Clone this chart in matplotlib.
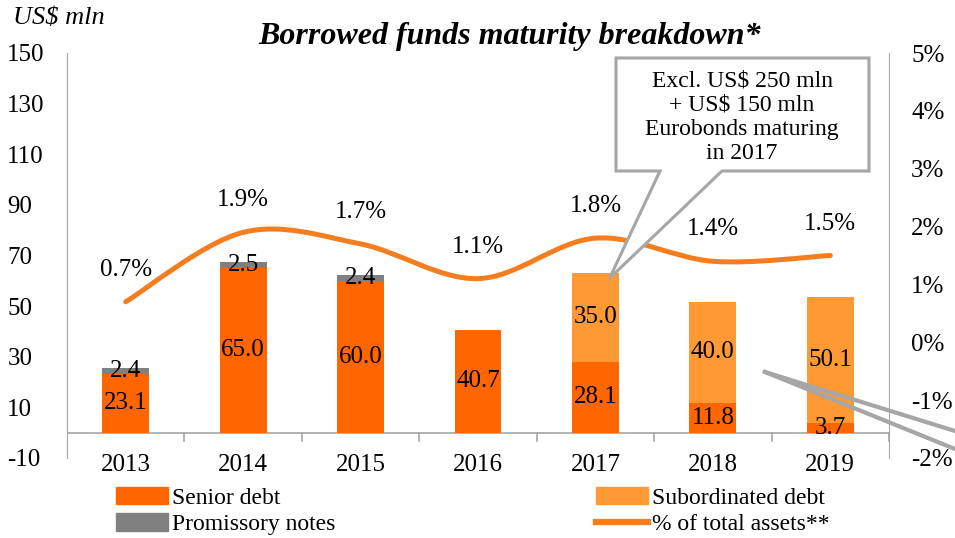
import numpy as np
import matplotlib.pyplot as plt
from matplotlib.path import Path
from matplotlib.patches import PathPatch, Polygon, Patch
from matplotlib.lines import Line2D

plt.rcParams['font.family'] = ['Liberation Serif', 'DejaVu Serif']
plt.rcParams['axes.unicode_minus'] = False

years = ['2013', '2014', '2015', '2016', '2017', '2018', '2019']
senior = [23.1, 65.0, 60.0, 40.7, 28.1, 11.8, 3.7]
subordinated = [0, 0, 0, 0, 35.0, 40.0, 50.1]
promissory = [2.4, 2.5, 2.4, 0, 0, 0, 0]
pct_assets = [0.7, 1.9, 1.7, 1.1, 1.8, 1.4, 1.5]

c_senior = '#FF6600'
c_sub = '#FF9933'
c_prom = '#808080'
c_line = '#F47D20'
c_grey = '#A6A6A6'

W, H = 955, 538
fig = plt.figure(figsize=(W / 100, H / 100), dpi=100)
ax = fig.add_axes([67 / W, 1 - 458 / H, (889 - 67) / W, (458 - 53) / H])
ax2 = ax.twinx()

x = np.arange(len(years))
bw = 0.4
ax.bar(x, senior, bw, color=c_senior, zorder=2)
ax.bar(x, subordinated, bw, bottom=senior, color=c_sub, zorder=2)
bottom2 = np.array(senior) + np.array(subordinated)
ax.bar(x, promissory, bw, bottom=bottom2, color=c_prom, zorder=2)

fs = 18
for i in range(len(years)):
    if senior[i]:
        ax.text(x[i], senior[i] / 2, '%.1f' % senior[i], ha='center', va='center', fontsize=fs, zorder=3)
    if subordinated[i]:
        ax.text(x[i], senior[i] + subordinated[i] / 2, '%.1f' % subordinated[i],
                ha='center', va='center', fontsize=fs, zorder=3)
    if promissory[i]:
        ax.text(x[i], bottom2[i] + promissory[i] / 2, '%.1f' % promissory[i],
                ha='center', va='center', fontsize=fs, zorder=3)

ax.set_xlim(-0.5, 6.5)
ax.set_ylim(-10, 150)
ax.set_yticks(np.arange(-10, 151, 20))
ax2.set_ylim(-2, 5)
ax2.set_yticks(np.arange(-2, 6, 1))
ax2.set_yticklabels(['%d%%' % v for v in range(-2, 6)])

# smoothed line (Bezier through the points, like Excel smoothing)
pts = np.column_stack([x, pct_assets]).astype(float)
verts = [tuple(pts[0])]
codes = [Path.MOVETO]
n = len(pts)
for i in range(n - 1):
    p0 = pts[max(i - 1, 0)]
    p1 = pts[i]
    p2 = pts[i + 1]
    p3 = pts[min(i + 2, n - 1)]
    c1 = p1 + (p2 - p0) / 6
    c2 = p2 - (p3 - p1) / 6
    verts += [tuple(c1), tuple(c2), tuple(p2)]
    codes += [Path.CURVE4] * 3
ax2.add_patch(PathPatch(Path(verts, codes), fill=False, edgecolor=c_line, lw=3.6,
                        capstyle='round', zorder=4))
for i, v in enumerate(pct_assets):
    ax2.annotate('%.1f%%' % v, (x[i], v), xytext=(0, 23), textcoords='offset points',
                 ha='center', va='center', fontsize=fs)

# axes styling
for a in (ax, ax2):
    a.spines['top'].set_visible(False)
    a.spines['bottom'].set_visible(False)
    a.spines['left'].set_color(c_grey)
    a.spines['right'].set_color(c_grey)
ax2.spines['left'].set_visible(False)
ax.spines['right'].set_visible(False)
ax.tick_params(axis='y', length=0, labelsize=fs, pad=43)
for lab in ax.get_yticklabels():
    lab.set_horizontalalignment('left')
ax2.tick_params(axis='y', length=0, labelsize=fs, pad=16)

ax.axhline(0, color=c_grey, lw=1.2, zorder=1)
ax.set_xticks(x)
ax.set_xticklabels(years, fontsize=fs)
ax.tick_params(axis='x', length=0, pad=-3)
for b in np.arange(0.5, 7.0, 1.0):
    ax.plot([b, b], [0, -3.2], color=c_grey, lw=1.2, clip_on=False, zorder=1)

# titles
fig.text(510 / W, 1 - 37 / H, 'Borrowed funds maturity breakdown*', ha='center', va='center',
         fontsize=23, fontweight='bold', fontstyle='italic')
fig.text(13 / W, 1 - 18 / H, 'US$ mln', ha='left', va='center', fontsize=19, fontstyle='italic')

# callout box
fig.canvas.draw()
tip_disp = ax.transData.transform((4.12, 61))
tip = fig.transFigure.inverted().transform(tip_disp)
box = [(616, 58), (869, 58), (869, 171), (722, 171), None, (660, 171), (616, 171)]
poly = []
for p in box:
    if p is None:
        poly.append(tuple(tip))
    else:
        poly.append((p[0] / W, 1 - p[1] / H))
fig.patches.append(Polygon(poly, closed=True, transform=fig.transFigure, facecolor='white',
                           edgecolor=c_grey, lw=2.2, zorder=5))
fig.text(742 / W, 1 - 117 / H, 'Excl. US$ 250 mln\n+ US$ 150 mln\nEurobonds maturing\nin 2017',
         ha='center', va='center', fontsize=17, linespacing=1.2, zorder=6)

# stray leader lines from off-chart callout
for end_y in (431, 449):
    fig.lines.append(Line2D([765 / W, 1.0], [1 - 372 / H, 1 - end_y / H],
                            transform=fig.transFigure, color=c_grey, lw=3, zorder=5))

# legend, two columns placed separately
leg_kw = dict(loc='center left', frameon=False, fontsize=17, handlelength=2.2,
              handleheight=0.75, handletextpad=0.2, labelspacing=0.2, borderpad=0)
fig.legend([Patch(color=c_senior), Patch(color=c_prom)],
           ['Senior debt', 'Promissory notes'],
           bbox_to_anchor=(104 / W, 1 - 511 / H), **leg_kw)
fig.legend([Patch(color=c_sub), Line2D([], [], color=c_line, lw=4.5)],
           ['Subordinated debt', '% of total assets**'],
           bbox_to_anchor=(584 / W, 1 - 511 / H), **leg_kw)

fig.savefig('out.png', dpi=100)
